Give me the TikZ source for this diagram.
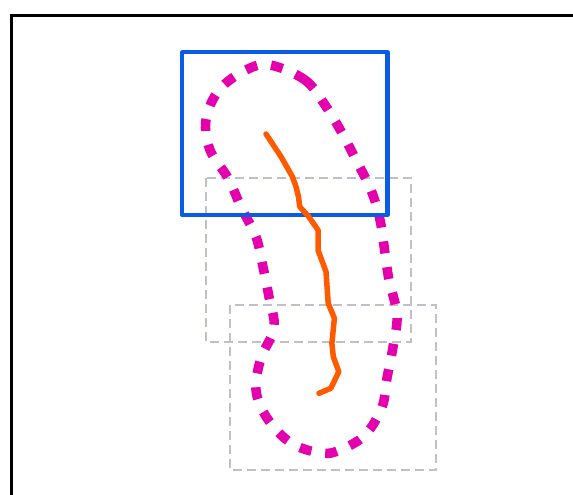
\documentclass[tikz,border=0pt]{standalone}
\usepackage{tikz}
\usepackage{xcolor}

\begin{document}
\begin{tikzpicture}[x=1pt,y=1pt,yscale=-1]
        \useasboundingbox (0,0) rectangle (573,495);
        \clip (0,0) rectangle (573,495);
        
        %Shape: Frame [id:frame] 
        \draw[line width=2.4] (11.5,520) -- (11.5,15.5) -- (600,15.5) ;
        
        %Shape: Rectangle [id:grayupper] 
        \draw[dash pattern=on 9pt off 5pt, line width=2.2, color={rgb, 255:red, 192; green, 192; blue, 200 }] (206,178) rectangle (411,342) ;
        %Shape: Rectangle [id:graylower] 
        \draw[dash pattern=on 9pt off 5pt, line width=2.2, color={rgb, 255:red, 192; green, 192; blue, 200 }] (230,305) rectangle (436,470) ;
        
        %Curve Lines [id:loop] 
        \draw[line width=9.5, dash pattern=on 12pt off 14pt, color={rgb, 255:red, 228; green, 0; blue, 172 }]
            plot[smooth cycle, tension=0.6] coordinates {(270,65) (305,80) (325,105) (342,133) (356,160) (371,190) (380,220) (385,253) (389,280) (397,315) (393,347) (387,378) (382,407) (365,435) (340,450) (321,453) (291,443) (267,418) (256,390) (261,358) (274,328) (269,297) (263,267) (256,237) (241,207) (228,178) (210,150) (206,120) (219,90) (246,70)} ;
        
        %Shape: Rectangle [id:bluebox] 
        \draw[line width=4.2, line join=round, color={rgb, 255:red, 10; green, 92; blue, 230 }] (182.3,52.3) rectangle (387.5,215) ;
        
        %Curve Lines [id:track] 
        \draw[line width=5.5, line cap=round, line join=round, color={rgb, 255:red, 255; green, 90; blue, 0 }]
            (266,134) -- (281,156.7) -- (292.4,176.7) -- (296,186.7) -- (298.5,196.7) -- (299.7,206.7) -- (308.8,216.7) -- (318,230) -- (318,250) -- (326,271.7) -- (328.2,303.3) -- (334.4,318.3) -- (331.9,343.3) -- (333.3,356.7) -- (338.8,371.7) -- (330.8,388.3) -- (319,393.3) ;
        
    \end{tikzpicture}
\end{document}
